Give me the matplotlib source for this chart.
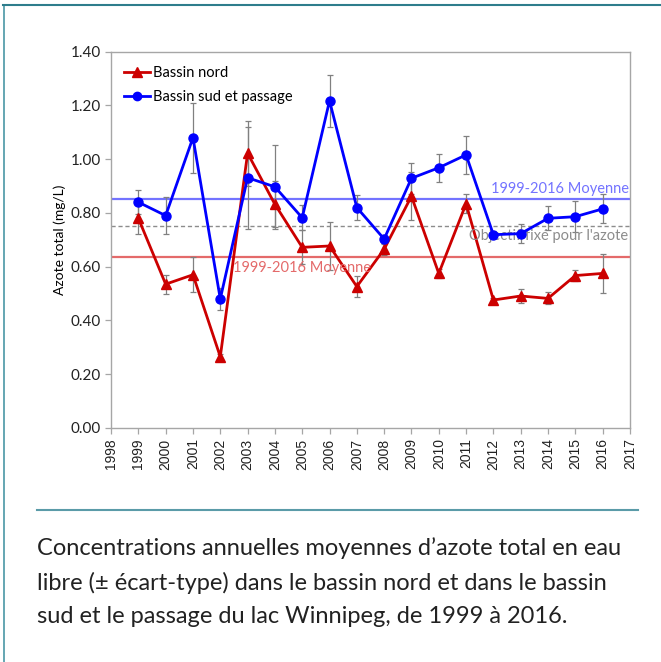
import matplotlib.pyplot as plt
from matplotlib.lines import Line2D

years = list(range(1999, 2017))

nord = [0.78, 0.535, 0.57, 0.265, 1.022, 0.832, 0.672, 0.677, 0.526, 0.665,
        0.862, 0.575, 0.834, 0.476, 0.491, 0.482, 0.567, 0.575]
nord_err = [0.06, 0.035, 0.065, 0.01, 0.12, 0.085, 0.063, 0.09, 0.04, 0.02,
            0.09, 0.018, 0.035, 0.006, 0.025, 0.022, 0.02, 0.072]

sud = [0.84, 0.79, 1.08, 0.48, 0.931, 0.897, 0.782, 1.217, 0.82, 0.703,
       0.929, 0.968, 1.016, 0.719, 0.723, 0.78, 0.786, 0.815]
sud_err = [0.045, 0.068, 0.13, 0.04, 0.19, 0.155, 0.047, 0.097, 0.045, 0.015,
           0.058, 0.053, 0.07, 0.012, 0.034, 0.045, 0.058, 0.054]

moy_sud = 0.851
moy_nord = 0.635
objectif = 0.751

yticks = [0.0, 0.2, 0.4, 0.6, 0.8, 1.0, 1.2, 1.4]
xticks = list(range(1998, 2018))

caption = ("Concentrations annuelles moyennes d\u2019azote total en eau\n"
           "libre (\u00b1 \u00e9cart-type) dans le bassin nord et dans le bassin\n"
           "sud et le passage du lac Winnipeg, de 1999 \u00e0 2016.")

fig = plt.figure(figsize=(6.61, 6.62), dpi=100)
ax = fig.add_axes([0.168, 0.3535, 0.785, 0.5685])

# reference lines
ax.axhline(moy_sud, color="#7373ff", lw=1.6, zorder=1)
ax.axhline(moy_nord, color="#e46a6a", lw=1.6, zorder=1)
ax.axhline(objectif, color="#8c8c8c", lw=1.0, ls=(0, (3, 2)), zorder=1)

# error bars
ax.errorbar(years, nord, yerr=nord_err, fmt="none", ecolor="#808080",
            elinewidth=0.9, capsize=2.5, capthick=0.9, zorder=2)
ax.errorbar(years, sud, yerr=sud_err, fmt="none", ecolor="#808080",
            elinewidth=0.9, capsize=2.5, capthick=0.9, zorder=2)

# series
ax.plot(years, nord, color="#cc0000", lw=2.0, marker="^", ms=7.5, zorder=3)
ax.plot(years, sud, color="#0000ff", lw=2.0, marker="o", ms=6.5, zorder=4)

# annotations
lab = dict(fontfamily="Lato", fontsize=10.5)
ax.text(2016.95, moy_sud + 0.012, "1999-2016 Moyenne", color="#7373ff",
        ha="right", va="bottom", **lab)
ax.text(2002.45, moy_nord - 0.012, "1999-2016 Moyenne", color="#e46a6a",
        ha="left", va="top", **lab)
ax.text(2016.95, objectif - 0.012, "Objectif fix\u00e9 pour l'azote",
        color="#8c8c8c", ha="right", va="top", **lab)

ax.set_xlim(1998, 2017)
ax.set_ylim(0, 1.4)
ax.set_xticks(xticks)
ax.set_xticklabels([str(x) for x in xticks], rotation=90,
                   fontfamily="Liberation Sans", fontsize=10)
ax.set_yticks(yticks)
ax.set_yticklabels([f"{v:.2f}" for v in yticks], fontfamily="Lato", fontsize=11)
ax.set_ylabel("Azote total (mg/L)", fontfamily="Lato", fontsize=10, labelpad=3)

for s in ax.spines.values():
    s.set_color("#a6a6a6")
    s.set_linewidth(1.0)
ax.tick_params(axis="both", colors="#a6a6a6", labelcolor="#222222",
               length=4, width=0.9)

handles = [
    Line2D([], [], color="#cc0000", lw=2.0, marker="^", ms=7),
    Line2D([], [], color="#0000ff", lw=2.0, marker="o", ms=6),
]
ax.legend(handles, ["Bassin nord", "Bassin sud et passage"], loc="upper left",
          frameon=False, prop={"family": "Lato", "size": 10.5},
          handlelength=1.8, handletextpad=0.2, labelspacing=0.7,
          borderaxespad=0.3, bbox_to_anchor=(0.005, 0.99))

# frame around the figure panel and separator
border = "#2e7d8c"
fig.add_artist(Line2D([3.5 / 661, 3.5 / 661], [0, 1 - 5 / 662],
                      transform=fig.transFigure, color="#4a97a5", lw=1.2))
fig.add_artist(Line2D([3 / 661, 1], [1 - 5 / 662, 1 - 5 / 662],
                      transform=fig.transFigure, color=border, lw=1.5))
fig.add_artist(Line2D([37 / 661, 638 / 661], [1 - 510 / 662, 1 - 510 / 662],
                      transform=fig.transFigure, color="#5a9ba8", lw=1.5))

fig.text(37 / 661, 1 - 537 / 662, caption, ha="left", va="top",
         fontfamily="Lato", fontsize=17, color="#222222", linespacing=1.72)

fig.savefig("out.png", dpi=100)
